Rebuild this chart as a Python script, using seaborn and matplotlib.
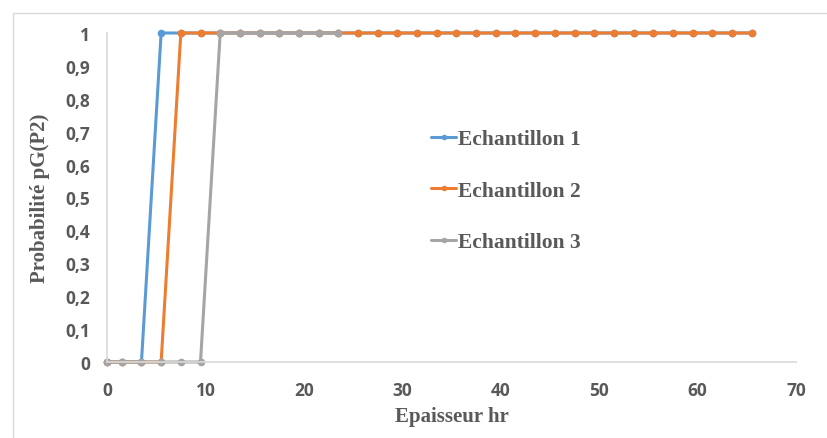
import numpy as np
import pandas as pd
import seaborn as sns
import matplotlib.pyplot as plt
from matplotlib.lines import Line2D
from matplotlib.patches import Rectangle

# données
epaisseur = [0, 1.5, 3.5, 5.5, 7.5, 9.5, 11.5, 13.5, 15.5, 17.5, 19.5, 21.5, 23.5,
             25.5, 27.5, 29.5, 31.5, 33.5, 35.5, 37.5, 39.5, 41.5, 43.5, 45.5,
             47.5, 49.5, 51.5, 53.5, 55.5, 57.5, 59.5, 61.5, 63.5, 65.5]
ech1 = [0, 0, 0] + [1] * 31
ech2 = [0, 0, 0, 0] + [1] * 30
ech3 = [0, 0, 0, 0, 0, 0] + [1] * 7
noms = ["Echantillon 1", "Echantillon 2", "Echantillon 3"]
couleurs = ["#5B9BD5", "#ED7D31", "#A5A5A5"]
yticks = [0, 0.1, 0.2, 0.3, 0.4, 0.5, 0.6, 0.7, 0.8, 0.9, 1]
ytick_labels = ["0", "0,1", "0,2", "0,3", "0,4", "0,5", "0,6", "0,7", "0,8", "0,9", "1"]
xticks = [0, 10, 20, 30, 40, 50, 60, 70]

df = pd.concat([
    pd.DataFrame({"x": epaisseur[:len(ech1)], "p": ech1, "s": noms[0]}),
    pd.DataFrame({"x": epaisseur[:len(ech2)], "p": ech2, "s": noms[1]}),
    pd.DataFrame({"x": epaisseur[:len(ech3)], "p": ech3, "s": noms[2]}),
])

sns.set_style("white")
fig = plt.figure(figsize=(8.27, 4.39), dpi=100)
ax = fig.add_axes([107/827, 76/439, 689/827, 329/439])

sns.lineplot(data=df, x="x", y="p", hue="s", palette=couleurs, marker="o",
             markersize=5.5, markeredgewidth=0, linewidth=2.2, sort=False,
             legend=False, ax=ax, clip_on=False)

ax.set_xlim(0, 70)
ax.set_ylim(0, 1)
ax.set_xticks(xticks)
ax.set_yticks(yticks)
ax.set_yticklabels(ytick_labels)
for lab in ax.get_xticklabels() + ax.get_yticklabels():
    lab.set_fontfamily("Open Sans")
    lab.set_fontweight("bold")
    lab.set_fontsize(12.5)
    lab.set_color("#595959")
ax.tick_params(axis="both", direction="inout", length=10, width=1, color="#D9D9D9")
ax.tick_params(axis="y", pad=7)
ax.tick_params(axis="x", pad=9)

for s in ["top", "right"]:
    ax.spines[s].set_visible(False)
for s in ["left", "bottom"]:
    ax.spines[s].set_color("#D9D9D9")
    ax.spines[s].set_linewidth(1.2)

ax.set_xlabel("Epaisseur hr", family="Liberation Serif", weight="bold",
              fontsize=15, color="#595959", labelpad=5)
ax.set_ylabel("Probabilité pG(P2)", family="Liberation Serif", weight="bold",
              fontsize=15, color="#595959", labelpad=11)

handles = [Line2D([], [], color=c, marker="o", markersize=4, markeredgewidth=0,
                  linewidth=2.2) for c in couleurs]
leg = ax.legend(handles, noms, loc="center left", bbox_to_anchor=(0.455, 0.52),
                frameon=False, borderpad=0, handlelength=1.15, handletextpad=0.1,
                labelspacing=1.46,
                prop={"family": "Liberation Serif", "weight": "bold", "size": 15.5})
for t in leg.get_texts():
    t.set_color("#595959")

# cadre du graphique
fig.add_artist(Rectangle((13/827, -0.1), 1.0, (439 - 14)/439 + 0.1,
                         transform=fig.transFigure, fill=False,
                         edgecolor="#D9D9D9", linewidth=1))

fig.savefig("out.png", dpi=100)
